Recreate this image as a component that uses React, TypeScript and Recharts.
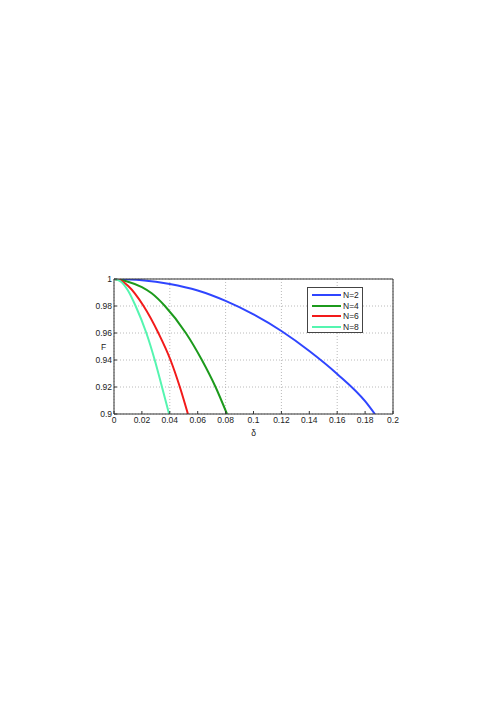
import { LineChart, Line, XAxis, YAxis, CartesianGrid, Legend } from 'recharts';

// fidelity F versus delta, one curve per N
const deltaN2 = [0, 0.02, 0.04, 0.06, 0.08, 0.1, 0.12, 0.14, 0.16, 0.18, 0.187];
const fidN2 = [1, 0.9991, 0.9963, 0.9915, 0.9838, 0.9738, 0.9615, 0.9467, 0.9297, 0.9095, 0.9];

const deltaN4 = [0, 0.01, 0.02, 0.027, 0.0365, 0.0515, 0.063, 0.0728, 0.081];
const fidN4 = [1, 0.998, 0.994, 0.9894, 0.98, 0.96, 0.94, 0.92, 0.9];

const deltaN6 = [0, 0.005, 0.01, 0.0212, 0.0318, 0.0405, 0.0472, 0.053];
const fidN6 = [1, 0.9988, 0.995, 0.98, 0.96, 0.94, 0.92, 0.9];

const deltaN8 = [0, 0.005, 0.01, 0.0155, 0.0232, 0.0292, 0.0344, 0.0395];
const fidN8 = [1, 0.998, 0.9915, 0.98, 0.96, 0.94, 0.92, 0.9];

const xTicks = [0, 0.02, 0.04, 0.06, 0.08, 0.1, 0.12, 0.14, 0.16, 0.18, 0.2];
const yTicks = [0.9, 0.92, 0.94, 0.96, 0.98, 1];

const seriesNames = ['N=2', 'N=4', 'N=6', 'N=8'];
const seriesColors = ['#2f45ff', '#1c9a1c', '#f21a1a', '#55f5b0'];

const toPoints = (xs: number[], ys: number[]) => xs.map((d, i) => ({ d, F: ys[i] }));
const seriesData = [
  toPoints(deltaN2, fidN2),
  toPoints(deltaN4, fidN4),
  toPoints(deltaN6, fidN6),
  toPoints(deltaN8, fidN8),
];

const font = '"Liberation Sans", Arial, sans-serif';
const tickStyle = { fontSize: 8.5, fill: '#222', fontFamily: font };

const fmt = (v: number) => String(Number(v.toFixed(2)));

function LegendBox() {
  return (
    <div
      style={{
        width: 56,
        height: 46,
        background: '#fff',
        border: '1px solid #444',
        boxSizing: 'border-box',
        padding: '2px 0 0 4px',
        fontFamily: font,
        fontSize: 8.5,
        color: '#222',
      }}
    >
      {seriesNames.map((n, i) => (
        <div key={n} style={{ display: 'flex', alignItems: 'center', height: 10.5 }}>
          <div style={{ width: 29, height: 2, background: seriesColors[i], marginRight: 2 }} />
          <span>{n}</span>
        </div>
      ))}
    </div>
  );
}

export default function App() {
  return (
    <div style={{ position: 'absolute', left: 0, top: 0, width: 496, height: 702, background: '#fff' }}>
      <LineChart width={496} height={702} margin={{ top: 278, right: 102, bottom: 258, left: 84 }}>
        <CartesianGrid xAxisId="b" yAxisId="l" stroke="#a8a8a8" strokeDasharray="1 2" strokeWidth={0.8} />
        <XAxis
          xAxisId="b"
          dataKey="d"
          type="number"
          domain={[0, 0.2]}
          ticks={xTicks}
          tickFormatter={fmt}
          tick={tickStyle}
          tickSize={-3}
          tickMargin={6}
          stroke="#333"
          height={30}
          allowDataOverflow
          label={{ value: 'δ', position: 'insideBottom', offset: 8, style: tickStyle }}
        />
        <XAxis xAxisId="t" orientation="top" dataKey="d" type="number" domain={[0, 0.2]} ticks={xTicks}
          tick={false} tickSize={-3} stroke="#333" height={1} />
        <YAxis
          yAxisId="l"
          type="number"
          domain={[0.9, 1]}
          ticks={yTicks}
          tickFormatter={fmt}
          tick={tickStyle}
          tickSize={-3}
          tickMargin={5}
          stroke="#333"
          width={30}
          allowDataOverflow
          label={{ value: 'F', position: 'insideLeft', offset: 17, style: tickStyle }}
        />
        <YAxis yAxisId="r" orientation="right" type="number" domain={[0.9, 1]} ticks={yTicks}
          tick={false} tickSize={-3} stroke="#333" width={1} />
        {seriesData.map((data, i) => (
          <Line
            key={seriesNames[i]}
            xAxisId="b"
            yAxisId="l"
            data={data}
            dataKey="F"
            name={seriesNames[i]}
            type="monotone"
            stroke={seriesColors[i]}
            strokeWidth={2}
            dot={false}
            isAnimationActive={false}
          />
        ))}
        <Legend
          layout="horizontal"
          verticalAlign="middle"
          align="center"
          content={() => <LegendBox />}
          wrapperStyle={{ position: 'absolute', left: 307, top: 287, width: 'auto' }}
        />
      </LineChart>
    </div>
  );
}
